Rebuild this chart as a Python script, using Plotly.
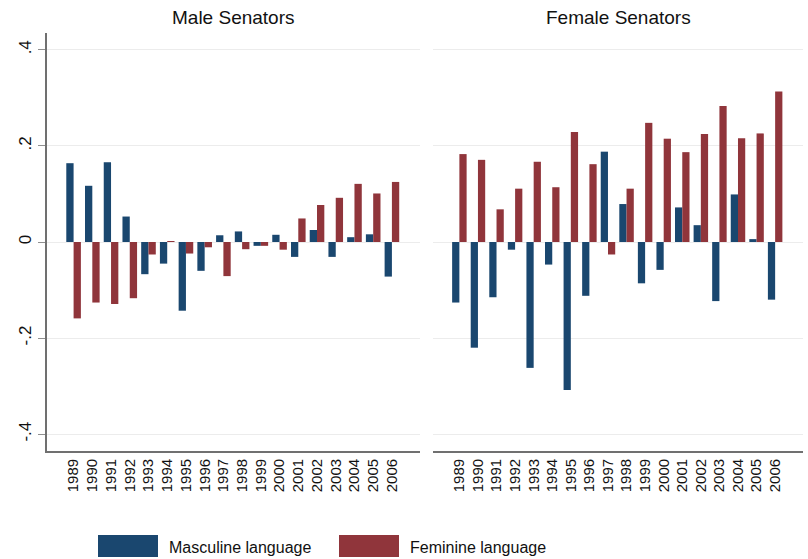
import plotly.graph_objects as go
from plotly.subplots import make_subplots

# data
years = [str(y) for y in range(1989, 2007)]

male_masculine = [0.164, 0.117, 0.166, 0.053, -0.067, -0.045, -0.143, -0.060, 0.014,
                  0.022, -0.008, 0.015, -0.031, 0.025, -0.031, 0.010, 0.016, -0.072]
male_feminine = [-0.159, -0.126, -0.129, -0.117, -0.026, 0.002, -0.024, -0.011, -0.071,
                 -0.015, -0.008, -0.016, 0.049, 0.077, 0.092, 0.121, 0.101, 0.125]

female_masculine = [-0.126, -0.220, -0.115, -0.016, -0.262, -0.047, -0.308, -0.112, 0.188,
                    0.079, -0.086, -0.058, 0.072, 0.035, -0.123, 0.099, 0.006, -0.120]
female_feminine = [0.183, 0.171, 0.068, 0.111, 0.167, 0.114, 0.229, 0.162, -0.026,
                   0.111, 0.248, 0.215, 0.187, 0.225, 0.283, 0.216, 0.226, 0.313]

panel_titles = ["Male Senators", "Female Senators"]
series_names = ["Masculine language", "Feminine language"]
y_tickvals = [-0.4, -0.2, 0, 0.2, 0.4]
y_ticktext = ["-.4", "-.2", "0", ".2", ".4"]

BLUE = "#1a476f"
RED = "#90353b"
FONT = "Liberation Sans, Arial, sans-serif"

fig = make_subplots(rows=1, cols=2, shared_yaxes=False)

panels = [(male_masculine, male_feminine), (female_masculine, female_feminine)]
for col, (masc, fem) in enumerate(panels, start=1):
    fig.add_trace(go.Bar(x=years, y=masc, name=series_names[0], marker_color=BLUE,
                         marker_line_width=0, showlegend=False), row=1, col=col)
    fig.add_trace(go.Bar(x=years, y=fem, name=series_names[1], marker_color=RED,
                         marker_line_width=0, showlegend=False), row=1, col=col)

W, H = 808, 559
left_dom = [47 / W, 420 / W]
right_dom = [433 / W, 803 / W]
y_dom = [1 - 451 / H, 1 - 33 / H]

xaxis_style = dict(
    type="category", range=[-1.42, 18.5], showgrid=False, zeroline=False,
    showline=True, linecolor="#707070", linewidth=1.8, ticks="",
    tickangle=-90, tickfont=dict(family=FONT, size=15, color="#111111"),
)
yaxis_style = dict(
    range=[-0.435, 0.435], tickvals=y_tickvals, showgrid=True,
    gridcolor="#ececec", gridwidth=1.2, zeroline=False,
)

fig.update_layout(
    xaxis=dict(domain=left_dom, **xaxis_style),
    xaxis2=dict(domain=right_dom, **xaxis_style),
    yaxis=dict(domain=y_dom, ticktext=y_ticktext, tickangle=-90, showline=True,
               linecolor="#707070", linewidth=1.8, ticks="outside", ticklen=7,
               tickcolor="#909090",
               tickfont=dict(family=FONT, size=17, color="#111111"), **yaxis_style),
    yaxis2=dict(domain=y_dom, showticklabels=False, showline=False, **yaxis_style),
    barmode="group",
    bargap=0.22,
    bargroupgap=0,
    width=W,
    height=H,
    margin=dict(l=0, r=0, t=0, b=0),
    paper_bgcolor="white",
    plot_bgcolor="white",
    showlegend=False,
    font=dict(family=FONT, color="#111111"),
)

# panel titles
for dom, title in zip([left_dom, right_dom], panel_titles):
    fig.add_annotation(text=title, x=(dom[0] + dom[1]) / 2, y=1 - 18 / H,
                       xref="paper", yref="paper", xanchor="center", yanchor="middle",
                       showarrow=False,
                       font=dict(family=FONT, size=19, color="#111111"))

# legend drawn below the panels
legend_items = [(series_names[0], BLUE, 98), (series_names[1], RED, 339)]
for name, color, x0 in legend_items:
    fig.add_shape(type="rect", xref="paper", yref="paper",
                  x0=x0 / W, x1=(x0 + 60) / W, y0=1 - 557 / H, y1=1 - 535 / H,
                  fillcolor=color, line=dict(color=color, width=0))
    fig.add_annotation(text=name, x=(x0 + 69) / W, y=1 - 547 / H, xref="paper",
                       yref="paper", xanchor="left", yanchor="middle", showarrow=False,
                       font=dict(family=FONT, size=16, color="#111111"))

fig.write_html("out.html", config={"displayModeBar": False},
               post_script="document.body.style.margin='0';")
